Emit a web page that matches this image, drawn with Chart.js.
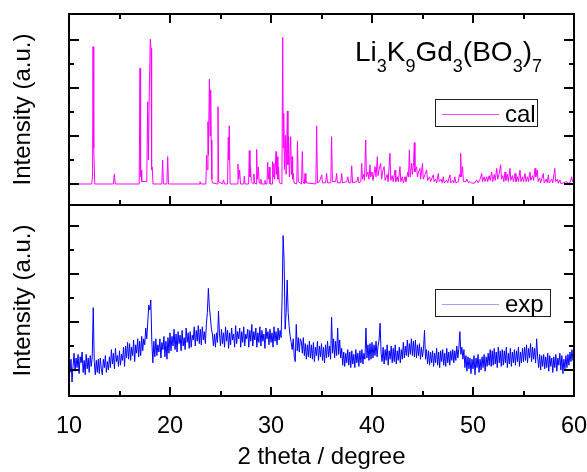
<!DOCTYPE html>
<html lang="en">
<head>
<meta charset="UTF-8">
<title>Li3K9Gd3(BO3)7 XRD</title>
<script src="https://cdn.jsdelivr.net/npm/chart.js"></script>
<style>
  body { margin: 0; background: #fff; }
  #wrap { width: 587px; height: 472px; }
</style>
</head>
<body>
<div id="wrap"><canvas id="xrd" width="587" height="472"></canvas></div>
<script>
const FONT = '"Liberation Sans", Arial, sans-serif';

// calculated pattern, [2theta, intensity]
const calPoints = [
  [10,0],[12.25,0],[12.33,0.3],[12.38,5.72],[12.43,4.47],[12.47,1.5],[12.55,0],
  [14.4,0],[14.49,0.42],[14.58,0],
  [16.95,0],[17.03,4.82],[17.09,0.3],[17.14,0.58],[17.2,0.1],
  [17.7,0.1],[17.79,3.43],[17.86,1.0],[17.95,3.85],[18.05,6.03],[18.12,5.65],[18.18,0.6],[18.24,0.7],[18.32,0],
  [19.19,0],[19.27,1.0],[19.35,0],[19.69,0],[19.77,1.14],[19.85,0],
  [22.9,0],[22.97,0.1],[23.05,0],
  [23.55,0],[23.63,1.2],[23.68,0.6],[23.76,2.6],[23.8,1.2],[23.9,4.37],[23.97,2.0],[24.03,3.92],[24.08,1.83],[24.14,0.2],[24.2,0.05],
  [24.68,0],[24.75,3.22],[24.82,0.1],
  [25.2,0],[25.3,0.17],[25.4,0],
  [25.7,0],[25.77,1.94],[25.82,1.0],[25.87,2.43],[25.95,0],
  [26.65,0],[26.73,0.83],[26.8,0.2],[26.9,0.58],[26.98,0],
  [27.3,0],[27.36,0.33],[27.43,0],
  [27.78,0],[27.85,1.39],[27.92,0.3],[27.98,0.7],[28.05,0.1],
  [28.25,0],[28.3,0.42],[28.38,0.05],
  [28.52,0],[28.58,1.44],[28.65,0.2],[28.75,0.7],[28.83,0.05],
  [28.95,0],[29.0,0.2],[29.06,0],
  [29.35,0],[29.4,0.15],[29.46,0],
  [29.6,0],[29.67,0.9],[29.74,0.2],[29.83,0.7],[29.9,0],
  [30.1,0],[30.16,0.93],[30.22,0.3],[30.29,0.86],[30.36,0.2],[30.5,1.35],[30.55,0.4],[30.6,1.14],[30.68,0.2],[30.75,0.7],[30.82,0.05],
  [31.08,0],[31.16,6.11],[31.22,1.5],[31.26,2.94],[31.33,0.6],[31.42,2.03],[31.5,0.4],[31.62,3.04],[31.68,0.8],[31.75,1.97],[31.82,0.3],
  [31.95,1.97],[32.02,0.4],[32.08,1.14],[32.14,0.2],[32.2,0.44],[32.28,0.05],
  [32.55,0],[32.62,1.8],[32.7,0.1],
  [33.02,0],[33.1,1.35],[33.18,0.1],[33.3,0],[33.37,0.44],[33.45,0.05],
  [34.44,0],[34.52,2.42],[34.6,0.05],
  [34.8,0.1],[35.02,0.38],[35.1,0.05],[35.4,0.05],[35.51,0.44],[35.6,0.05],
  [35.92,0.05],[36.0,1.97],[36.08,0.1],[36.4,0.1],[36.5,0.44],[36.58,0.05],
  [36.9,0.05],[37.0,0.44],[37.08,0.05],[37.5,0.1],[37.6,0.3],[37.7,0.05],
  [37.9,0.05],[37.99,0.76],[38.08,0.05],[38.5,0.1],[38.6,0.3],[38.7,0.05],
  [38.9,0.1],[38.98,0.86],[39.05,0.2],[39.15,0.4],[39.25,0.15],[39.38,1.83],[39.45,0.3],
  [39.6,0.5],[39.7,0.2],[39.8,0.8],[39.88,0.3],[40.0,0.5],[40.1,0.15],
  [40.3,0.72],[40.4,0.3],[40.53,1.14],[40.6,0.35],[40.7,0.6],[40.86,0.86],[40.95,0.2],
  [41.05,0.5],[41.2,0.72],[41.3,0.15],[41.5,0.4],[41.6,0.1],[41.78,1.28],[41.86,0.15],
  [42.0,0.35],[42.1,0.1],[42.28,0.58],[42.35,0.1],[42.5,0.3],[42.6,0.1],[42.77,0.72],[42.85,0.1],
  [43.0,0.3],[43.1,0.05],[43.27,0.3],[43.35,0.1],[43.55,0.5],[43.62,0.3],[43.7,1.42],[43.78,0.3],
  [43.93,0.86],[44.0,0.4],[44.12,0.9],[44.19,1.72],[44.25,0.5],[44.42,0.72],[44.5,0.3],
  [44.6,0.5],[44.75,0.65],[44.82,0.2],[45.0,0.86],[45.08,0.2],[45.25,0.4],[45.41,0.58],[45.5,0.15],
  [45.7,0.3],[45.8,0.1],[46.07,0.38],[46.15,0.1],[46.3,0.2],[46.4,0.05],[46.57,0.44],[46.65,0.1],
  [46.85,0.2],[46.95,0.05],[47.06,0.3],[47.15,0.05],[47.4,0.15],[47.5,0.05],[47.72,0.38],[47.8,0.05],
  [48.0,0.15],[48.1,0.05],[48.2,0.3],[48.3,0.05],[48.55,0.1],[48.65,0.4],[48.72,0.3],[48.78,1.28],
  [48.85,0.3],[48.97,0.72],[49.05,0.1],[49.3,0.1],[49.4,0.2],[49.55,0.05],[49.7,0.1],[49.9,0.03],
  [50.2,0.05],[50.36,0.17],[50.5,0.05],[50.7,0.2],[50.86,0.44],[50.95,0.1],[51.1,0.3],[51.2,0.1],
  [51.36,0.3],[51.45,0.1],[51.6,0.35],[51.7,0.15],[51.85,0.5],[51.95,0.1],[52.1,0.4],[52.2,0.15],
  [52.35,0.65],[52.45,0.2],[52.6,0.45],[52.74,0.8],[52.82,0.2],[52.95,0.35],[53.05,0.1],
  [53.17,0.5],[53.25,0.15],[53.4,0.4],[53.5,0.1],[53.66,0.65],[53.75,0.15],[53.9,0.35],[54.0,0.1],
  [54.16,0.44],[54.25,0.1],[54.4,0.3],[54.5,0.1],[54.65,0.58],[54.75,0.1],[54.9,0.3],[55.0,0.1],
  [55.15,0.44],[55.25,0.1],[55.4,0.3],[55.5,0.1],[55.64,0.5],[55.72,0.15],[55.9,0.35],[56.0,0.15],
  [56.14,0.65],[56.22,0.3],[56.37,0.58],[56.45,0.1],[56.6,0.25],[56.7,0.05],[56.96,0.44],[57.05,0.05],
  [57.25,0.2],[57.35,0.05],[57.46,0.38],[57.55,0.05],[57.8,0.2],[57.9,0.05],[58.1,0.65],[58.18,0.1],
  [58.35,0.2],[58.45,0.03],[58.6,0.17],[58.7,0.02],[59.0,0.05],[59.27,0.1],[59.4,0.02],[59.6,0.05],
  [59.77,0.3],[59.85,0.1],[60,0.25]
];

// measured pattern, one value every 0.1 degree from 10 to 60
const expStart = 10;
const expStep = 0.1;
const expY = [
  0.6,-0.1,0.45,-0.5,0.15,0.7,-0.05,0.5,0.1,0.65,
  -0.15,0.55,0.3,0.75,-0.1,0.4,-0.2,0.65,0.05,0.5,
  -0.1,0.6,0.15,0.55,2.6,0.35,-0.2,0.4,-0.1,0.45,
  -0.15,0.5,0.05,-0.2,0.45,0.1,0.6,-0.1,0.35,0.0,
  0.55,0.1,0.85,0.25,0.7,0.05,0.9,0.35,0.6,0.15,
  0.8,0.2,0.65,0.4,0.95,0.15,1.0,0.5,1.15,0.45,
  1.1,0.4,0.95,0.6,1.25,0.35,1.05,0.7,1.3,0.55,
  1.2,0.6,1.4,0.8,1.3,1.05,1.75,1.3,2.0,2.7,
  2.5,2.92,1.2,0.3,1.2,0.55,1.3,0.6,1.05,0.75,
  1.3,0.5,1.15,0.85,1.4,0.55,1.2,0.45,1.35,0.7,
  1.55,0.8,1.4,1.0,1.7,0.85,1.5,0.75,1.6,1.1,
  1.45,0.8,1.65,1.0,1.35,0.85,1.75,1.15,1.55,0.9,
  1.6,0.95,1.45,1.25,1.8,1.0,1.65,1.2,1.85,1.1,
  1.7,1.05,1.8,1.25,1.6,1.1,1.9,2.4,3.4,2.6,
  2.2,1.7,1.5,1.0,1.5,0.95,1.55,1.15,2.45,1.5,
  1.0,1.7,1.1,1.55,0.95,1.8,1.2,1.65,0.9,1.55,
  1.05,1.75,1.25,1.5,0.95,1.85,1.1,1.6,1.3,1.75,
  0.95,1.6,1.15,1.8,1.0,1.5,1.3,1.7,0.95,1.65,
  1.2,1.9,1.0,1.6,1.25,1.75,0.95,1.55,1.15,1.8,
  1.0,1.65,1.2,1.5,0.9,1.75,1.3,1.6,1.05,1.7,
  1.15,1.55,0.95,1.8,1.2,1.6,1.05,1.75,1.25,1.65,
  1.35,3.0,5.6,4.5,1.7,2.4,3.75,2.4,1.8,1.4,
  1.15,0.85,1.3,0.55,0.35,1.9,0.8,1.35,0.75,1.3,
  1.2,0.7,1.35,0.6,1.1,0.45,1.05,0.55,1.2,0.5,
  1.05,0.45,1.15,0.35,0.95,0.6,1.2,0.4,1.0,0.55,
  1.1,0.4,0.95,0.3,1.05,0.5,1.2,0.55,1.0,0.45,
  2.2,0.7,1.3,0.5,1.2,0.6,1.75,0.65,1.25,0.5,
  0.9,0.2,0.75,0.15,0.7,0.3,0.85,0.2,0.75,0.1,
  0.8,0.25,0.65,0.1,0.85,0.3,0.7,0.15,0.8,0.3,
  0.85,0.25,0.7,0.45,1.75,0.5,1.05,0.4,1.1,0.45,
  1.15,0.5,1.05,0.6,1.2,0.55,1.0,1.25,1.95,0.7,
  0.35,0.95,0.25,0.85,0.4,1.05,0.2,0.8,0.45,1.0,
  0.3,0.9,0.35,1.05,0.25,0.8,0.4,0.95,0.3,0.85,
  0.45,1.15,0.5,1.0,0.6,1.25,0.55,1.1,0.65,1.3,
  0.6,1.2,0.55,1.25,0.5,1.05,0.6,1.1,0.45,0.95,
  0.55,0.9,1.65,0.45,0.85,0.25,0.8,0.2,0.75,0.3,
  0.8,0.15,0.7,0.3,0.9,0.2,0.75,0.1,0.8,0.35,
  0.85,0.2,0.7,0.15,0.9,0.3,0.75,0.2,0.8,0.4,
  0.85,0.3,0.8,0.4,1.0,0.5,0.9,1.6,0.65,0.95,
  0.45,0.85,0.1,0.6,-0.05,0.55,0.05,0.5,-0.15,0.45,
  0.05,0.6,-0.2,0.5,0.1,0.65,-0.1,0.45,0.0,0.55,
  0.1,0.65,-0.05,0.55,0.15,0.7,0.2,0.85,0.15,0.8,
  0.2,0.9,0.25,0.75,0.1,0.95,0.3,0.8,0.15,0.85,
  0.2,0.8,0.3,0.95,0.1,0.7,0.25,0.9,0.15,0.75,
  0.3,0.85,0.2,0.8,0.35,0.95,0.15,0.75,0.3,0.9,
  0.35,0.95,0.4,1.05,0.3,0.9,0.5,1.1,0.35,0.95,
  0.45,0.9,0.3,1.3,0.55,0.1,0.65,0.0,0.6,0.15,
  0.65,0.05,0.55,0.1,0.7,-0.05,0.6,0.15,0.5,-0.1,
  0.55,0.1,0.65,-0.05,0.5,0.2,0.7,0.0,0.6,-0.15,
  0.45,0.05,0.6,0.1,0.65,0.2,0.75,0.35,0.85,0.4,
  0.75
];

const xTicks = [10, 20, 30, 40, 50, 60];
const seriesNames = ['cal', 'exp'];
const seriesColors = ['#ff00ff', '#0000ff'];
const keyColors = ['#ff44ff', '#a0a0ff'];
// formula pieces: [text, isSubscript]
const formula = [['Li',0],['3',1],['K',0],['9',1],['Gd',0],['3',1],['(BO',0],['3',1],[')',0],['7',1]];

const calData = calPoints.map(p => ({x: p[0], y: p[1]}));
const expData = expY.map((v, i) => ({x: +(expStart + i * expStep).toFixed(2), y: v}));

function line(ctx, x1, y1, x2, y2) {
  ctx.beginPath();
  ctx.moveTo(x1, y1);
  ctx.lineTo(x2, y2);
  ctx.stroke();
}

function drawKey(ctx, left, top, w, h, color, label) {
  ctx.lineWidth = 1;
  ctx.strokeStyle = '#222';
  ctx.strokeRect(left + 0.5, top + 0.5, w, h);
  ctx.strokeStyle = color;
  line(ctx, left + 7, top + 15.5, left + 64, top + 15.5);
  ctx.fillStyle = '#000';
  ctx.font = '24px ' + FONT;
  ctx.textBaseline = 'alphabetic';
  ctx.textAlign = 'left';
  ctx.fillText(label, left + 70, top + 23);
}

const framePlugin = {
  id: 'frame',
  afterDraw(chart) {
    const ctx = chart.ctx;
    const sx = chart.scales.x, yt = chart.scales.yTop, yb = chart.scales.yBot;
    const L = Math.round(sx.left), R = Math.round(sx.right);
    const T = Math.round(yt.top), B = Math.round(yb.bottom);
    const mid = Math.round(yt.bottom);
    ctx.save();
    ctx.strokeStyle = '#000';
    ctx.fillStyle = '#000';
    ctx.lineWidth = 2;
    line(ctx, L, T, R, T);
    line(ctx, L, mid, R, mid);
    line(ctx, L, B, R, B);
    line(ctx, L, T - 1, L, B + 1);
    line(ctx, R, T - 1, R, B + 1);
    // x ticks, majors at labels and minors halfway
    for (let v = xTicks[0]; v <= xTicks[xTicks.length - 1]; v += 5) {
      const px = Math.round(sx.getPixelForValue(v));
      const len = v % 10 === 0 ? 9 : 5;
      line(ctx, px, T, px, T + len);
      line(ctx, px, mid, px, mid - len);
      line(ctx, px, B, px, B - len);
    }
    // y ticks on both sides of each panel
    [yt, yb].forEach(s => {
      for (let v = 0; v <= 6; v++) {
        const py = Math.round(s.getPixelForValue(v));
        const len = v % 2 === 0 ? 10 : 5;
        line(ctx, L, py, L + len, py);
        line(ctx, R, py, R - len, py);
      }
    });

    drawKey(ctx, R - 139, T + 85, 102, 27, keyColors[0], seriesNames[0]);
    drawKey(ctx, R - 139, T + 275, 115, 27, keyColors[1], seriesNames[1]);

    // sample formula with subscripts
    let fx = L + 286;
    const base = T + 47;
    ctx.fillStyle = '#000';
    formula.forEach(([t, sub]) => {
      ctx.font = (sub ? '18px ' : '28px ') + FONT;
      ctx.fillText(t, fx, sub ? base + 11 : base);
      fx += ctx.measureText(t).width;
    });
    ctx.restore();
  }
};

const yTitle = {
  display: true,
  text: 'Intensity (a.u.)',
  color: '#000',
  font: {family: FONT, size: 24},
  padding: {top: 9, bottom: 0}
};

new Chart(document.getElementById('xrd'), {
  type: 'scatter',
  data: {
    datasets: [
      {label: seriesNames[0], data: calData, yAxisID: 'yTop', showLine: true,
       borderColor: seriesColors[0], borderWidth: 1, pointRadius: 0},
      {label: seriesNames[1], data: expData, yAxisID: 'yBot', showLine: true,
       borderColor: seriesColors[1], borderWidth: 1, pointRadius: 0}
    ]
  },
  options: {
    responsive: false,
    animation: false,
    devicePixelRatio: 1,
    layout: {padding: {top: 14, right: 13, left: 0, bottom: 0}},
    plugins: {legend: {display: false}, tooltip: {enabled: false}},
    scales: {
      x: {
        type: 'linear', position: 'bottom', min: 10, max: 60,
        grid: {display: false}, border: {display: false},
        afterBuildTicks: s => { s.ticks = xTicks.map(v => ({value: v})); },
        afterFit: s => { s.height = 76; s.paddingLeft = 0; s.paddingRight = 0; },
        ticks: {color: '#000', font: {family: FONT, size: 23.5}, padding: 8, maxRotation: 0, autoSkip: false},
        title: {display: true, text: '2 theta / degree', color: '#000',
                font: {family: FONT, size: 24}, padding: {top: 0, bottom: 0}}
      },
      // left boxes are laid out in reverse order, so the lower panel comes first
      yBot: {
        type: 'linear', position: 'left', stack: 'xrd', stackWeight: 1,
        min: -1.083, max: 6.875,
        grid: {display: false}, border: {display: false},
        ticks: {display: false},
        afterFit: s => { s.width = 69; },
        title: yTitle
      },
      yTop: {
        type: 'linear', position: 'left', stack: 'xrd', stackWeight: 1,
        min: -0.875, max: 7.083,
        grid: {display: false}, border: {display: false},
        ticks: {display: false},
        afterFit: s => { s.width = 69; },
        title: yTitle
      }
    }
  },
  plugins: [framePlugin]
});
</script>
</body>
</html>
